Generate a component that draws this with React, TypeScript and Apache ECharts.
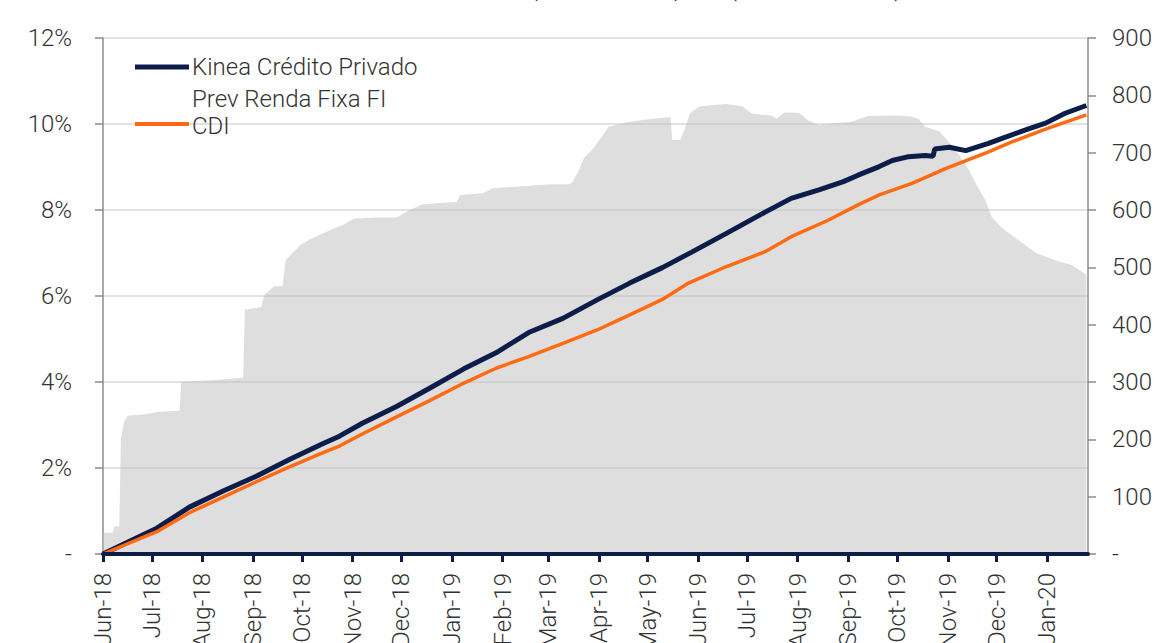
import React, { useEffect, useRef } from "react";
import * as echarts from "echarts";

// ---------- data ----------
const monthNames = ["Jan", "Feb", "Mar", "Apr", "May", "Jun", "Jul", "Aug", "Sep", "Oct", "Nov", "Dec"];

const monthTicks = [
  "2018-06-01", "2018-07-01", "2018-08-01", "2018-09-01", "2018-10-01", "2018-11-01",
  "2018-12-01", "2019-01-01", "2019-02-01", "2019-03-01", "2019-04-01", "2019-05-01",
  "2019-06-01", "2019-07-01", "2019-08-01", "2019-09-01", "2019-10-01", "2019-11-01",
  "2019-12-01", "2020-01-01",
];

const axisStart = "2018-06-01";
const axisEnd = "2020-01-26";

const leftAxisTicks = [0, 2, 4, 6, 8, 10, 12];
const rightAxisTicks = [0, 100, 200, 300, 400, 500, 600, 700, 800, 900];

// Patrimônio líquido (R$ milhões) – right axis
const plData: [string, number][] = [
  ["2018-06-01", 37], ["2018-06-07", 37], ["2018-06-08", 48], ["2018-06-11", 48],
  ["2018-06-12", 202], ["2018-06-14", 231], ["2018-06-16", 241], ["2018-06-28", 244],
  ["2018-07-05", 248], ["2018-07-18", 250], ["2018-07-19", 300], ["2018-08-12", 304],
  ["2018-08-26", 308], ["2018-08-27", 426], ["2018-09-06", 431], ["2018-09-08", 452],
  ["2018-09-14", 467], ["2018-09-19", 467], ["2018-09-21", 513], ["2018-09-30", 539],
  ["2018-10-06", 549], ["2018-10-16", 562], ["2018-10-26", 574], ["2018-11-02", 585],
  ["2018-11-16", 587], ["2018-11-28", 587], ["2018-12-06", 600], ["2018-12-14", 610],
  ["2019-01-04", 614], ["2019-01-06", 626], ["2019-01-20", 629], ["2019-01-26", 638],
  ["2019-02-16", 642], ["2019-03-02", 645], ["2019-03-14", 645], ["2019-03-16", 649],
  ["2019-03-20", 670], ["2019-03-23", 691], ["2019-03-28", 705], ["2019-04-03", 728],
  ["2019-04-07", 745], ["2019-04-18", 753], ["2019-04-30", 758], ["2019-05-15", 762],
  ["2019-05-16", 722], ["2019-05-21", 722], ["2019-05-24", 743], ["2019-05-27", 769],
  ["2019-06-02", 781], ["2019-06-18", 785], ["2019-06-28", 781], ["2019-07-04", 768],
  ["2019-07-16", 765], ["2019-07-19", 759], ["2019-07-24", 770], ["2019-08-02", 769],
  ["2019-08-07", 757], ["2019-08-14", 748], ["2019-08-19", 750], ["2019-09-03", 754],
  ["2019-09-13", 764], ["2019-09-28", 765], ["2019-10-08", 764], ["2019-10-14", 759],
  ["2019-10-18", 745], ["2019-10-27", 737], ["2019-11-02", 717], ["2019-11-08", 696],
  ["2019-11-14", 670], ["2019-11-18", 647], ["2019-11-24", 617], ["2019-11-28", 588],
  ["2019-12-04", 569], ["2019-12-14", 548], ["2019-12-25", 525], ["2020-01-08", 510],
  ["2020-01-16", 504], ["2020-01-25", 487],
];

// Rentabilidade acumulada (%) – left axis
const kineaData: [string, number][] = [
  ["2018-06-01", 0], ["2018-07-04", 0.6], ["2018-07-24", 1.09], ["2018-08-14", 1.47],
  ["2018-09-03", 1.81], ["2018-09-23", 2.19], ["2018-10-14", 2.57], ["2018-10-24", 2.74],
  ["2018-11-07", 3.04], ["2018-11-28", 3.43], ["2018-12-18", 3.85], ["2019-01-08", 4.3],
  ["2019-01-28", 4.68], ["2019-02-17", 5.15], ["2019-03-10", 5.48], ["2019-03-31", 5.91],
  ["2019-04-20", 6.3], ["2019-05-10", 6.66], ["2019-05-28", 7.02], ["2019-06-18", 7.45],
  ["2019-07-12", 7.95], ["2019-07-28", 8.27], ["2019-08-14", 8.47], ["2019-08-29", 8.66],
  ["2019-09-07", 8.81], ["2019-09-20", 9.01], ["2019-09-28", 9.15], ["2019-10-08", 9.24],
  ["2019-10-18", 9.27], ["2019-10-23", 9.25], ["2019-10-24", 9.42], ["2019-11-02", 9.46],
  ["2019-11-12", 9.38], ["2019-11-26", 9.55], ["2019-12-06", 9.69], ["2019-12-20", 9.88],
  ["2019-12-31", 10.02], ["2020-01-12", 10.25], ["2020-01-25", 10.43],
];

const cdiData: [string, number][] = [
  ["2018-06-01", 0], ["2018-07-04", 0.52], ["2018-07-24", 0.96], ["2018-08-14", 1.33],
  ["2018-09-03", 1.68], ["2018-09-23", 2.02], ["2018-10-14", 2.36], ["2018-10-24", 2.51],
  ["2018-11-07", 2.79], ["2018-11-28", 3.19], ["2018-12-18", 3.56], ["2019-01-08", 3.97],
  ["2019-01-28", 4.32], ["2019-02-17", 4.59], ["2019-03-10", 4.9], ["2019-03-31", 5.21],
  ["2019-04-20", 5.56], ["2019-05-10", 5.92], ["2019-05-26", 6.3], ["2019-06-18", 6.68],
  ["2019-07-12", 7.03], ["2019-07-28", 7.38], ["2019-08-19", 7.75], ["2019-09-07", 8.12],
  ["2019-09-20", 8.35], ["2019-10-10", 8.62], ["2019-10-31", 8.97], ["2019-11-13", 9.16],
  ["2019-11-26", 9.35], ["2019-12-10", 9.58], ["2019-12-31", 9.88], ["2020-01-25", 10.21],
];

const seriesNames = ["Kinea Crédito Privado Prev Renda Fixa FI", "CDI", "Patrimônio Líquido"];
const titleText = "Rentabilidade acumulada e patrimônio líquido (em R$ milhões)";

// ---------- helpers ----------
const toTime = (s: string) => {
  const [y, m, d] = s.split("-").map(Number);
  return new Date(y, m - 1, d).getTime();
};
const toPoints = (arr: [string, number][]) => arr.map(([d, v]) => [toTime(d), v]);

const NAVY = "#0c1d4a";
const ORANGE = "#ff6a13";
const FONT = "Roboto, 'Liberation Sans', sans-serif";
const TEXT = "#333333";

export default function App() {
  const ref = useRef<HTMLDivElement>(null);

  useEffect(() => {
    if (!ref.current) return;
    const chart = echarts.init(ref.current, undefined, { renderer: "svg" });
    const tickTimes = monthTicks.map(toTime);

    chart.setOption({
      animation: false,
      textStyle: { fontFamily: FONT },
      grid: {
        left: 103,
        right: 68,
        top: 38,
        bottom: 89,
        containLabel: false,
        outerBoundsMode: "none",
      },
      xAxis: {
        type: "value",
        min: toTime(axisStart),
        max: toTime(axisEnd),
        z: 10,
        axisLine: { show: true, lineStyle: { color: NAVY, width: 4 } },
        axisTick: {
          show: true,
          length: 8,
          customValues: tickTimes,
          lineStyle: { color: NAVY, width: 3 },
        },
        axisLabel: {
          customValues: tickTimes,
          rotate: 90,
          margin: 19,
          fontSize: 24,
          fontWeight: 300,
          fontFamily: FONT,
          color: TEXT,
          formatter: (v: number) => {
            const d = new Date(v);
            return monthNames[d.getMonth()] + "-" + String(d.getFullYear()).slice(2);
          },
        },
        splitLine: { show: false },
      },
      yAxis: [
        {
          type: "value",
          position: "left",
          min: leftAxisTicks[0],
          max: leftAxisTicks[leftAxisTicks.length - 1],
          interval: 2,
          axisLine: { show: true, lineStyle: { color: "#8c8c8c", width: 1.5 } },
          axisTick: { show: true, length: 8, lineStyle: { color: "#8c8c8c", width: 1.5 } },
          axisLabel: {
            margin: 31,
            fontSize: 24,
            fontWeight: 300,
            fontFamily: FONT,
            color: TEXT,
            formatter: (v: number) => (v === 0 ? "-" : v + "%"),
          },
          splitLine: { show: true, lineStyle: { color: "#d9d9d9", width: 1.5 } },
        },
        {
          type: "value",
          position: "right",
          min: rightAxisTicks[0],
          max: rightAxisTicks[rightAxisTicks.length - 1],
          interval: 100,
          axisLine: { show: true, lineStyle: { color: "#8c8c8c", width: 1.5 } },
          axisTick: { show: true, length: 8, lineStyle: { color: "#8c8c8c", width: 1.5 } },
          axisLabel: {
            margin: 24,
            fontSize: 24,
            fontWeight: 300,
            fontFamily: FONT,
            color: TEXT,
            formatter: (v: number) => (v === 0 ? "-" : String(v)),
          },
          splitLine: { show: false },
        },
      ],
      legend: { show: false },
      series: [
        {
          name: seriesNames[2],
          type: "line",
          yAxisIndex: 1,
          data: toPoints(plData),
          showSymbol: false,
          symbol: "none",
          lineStyle: { width: 0 },
          areaStyle: { color: "rgba(189,189,189,0.5)", opacity: 1 },
          z: 1,
        },
        {
          name: seriesNames[0],
          type: "line",
          yAxisIndex: 0,
          data: toPoints(kineaData),
          showSymbol: false,
          symbol: "none",
          lineStyle: { color: NAVY, width: 5 },
          z: 3,
        },
        {
          name: seriesNames[1],
          type: "line",
          yAxisIndex: 0,
          data: toPoints(cdiData),
          showSymbol: false,
          symbol: "none",
          lineStyle: { color: ORANGE, width: 3.5 },
          z: 4,
        },
      ],
      graphic: [
        {
          type: "text",
          x: 902,
          y: -24,
          style: {
            text: titleText,
            fontSize: 24,
            fontFamily: FONT,
            fontWeight: 300,
            fill: "#2b2a6e",
            align: "right",
            verticalAlign: "top",
          },
        },
        {
          type: "line",
          shape: { x1: 135, y1: 67, x2: 189, y2: 67 },
          style: { stroke: NAVY, lineWidth: 5 },
          z: 100,
        },
        {
          type: "text",
          x: 192,
          y: 67,
          style: {
            text: "Kinea Crédito Privado",
            fontSize: 24,
            fontFamily: FONT,
            fontWeight: 300,
            fill: TEXT,
            verticalAlign: "middle",
          },
          z: 100,
        },
        {
          type: "text",
          x: 192,
          y: 99,
          style: {
            text: "Prev Renda Fixa FI",
            fontSize: 24,
            fontFamily: FONT,
            fontWeight: 300,
            fill: TEXT,
            verticalAlign: "middle",
          },
          z: 100,
        },
        {
          type: "line",
          shape: { x1: 135, y1: 124, x2: 189, y2: 124 },
          style: { stroke: ORANGE, lineWidth: 4 },
          z: 100,
        },
        {
          type: "text",
          x: 192,
          y: 126,
          style: {
            text: "CDI",
            fontSize: 24,
            fontFamily: FONT,
            fontWeight: 300,
            fill: TEXT,
            verticalAlign: "middle",
          },
          z: 100,
        },
      ],
    });

    return () => chart.dispose();
  }, []);

  return (
    <div
      ref={ref}
      style={{ position: "absolute", left: 0, top: 0, width: 1156, height: 643, background: "#fff" }}
    />
  );
}
